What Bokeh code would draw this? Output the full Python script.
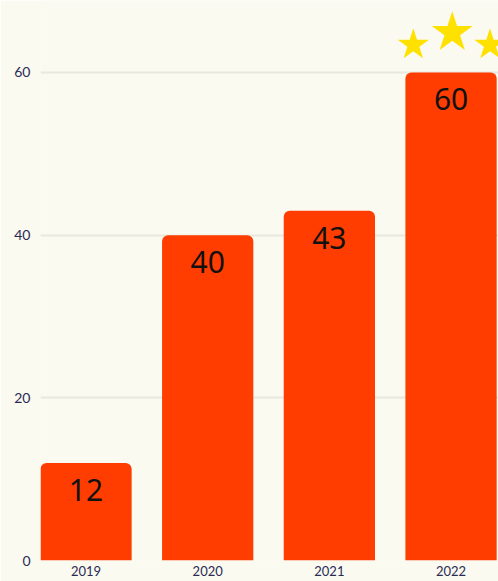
from bokeh.plotting import figure
from bokeh.models import Range1d, FixedTicker
from bokeh.core.properties import value
from bokeh.embed import file_html
from bokeh.resources import INLINE

years = ["2019", "2020", "2021", "2022"]
counts = [12, 40, 43, 60]
y_ticks = [0, 20, 40, 60]

xs = list(range(len(years)))
labels = [str(c) for c in counts]

p = figure(width=498, height=581, output_backend="svg", toolbar_location=None,
           x_range=Range1d(-0.374, 3.39), y_range=Range1d(0, 68.85),
           min_border_left=40, min_border_right=0, min_border_top=0, min_border_bottom=21)
p.background_fill_color = "#fafaf0"
p.border_fill_color = "#fafaf0"
p.outline_line_color = None

p.vbar(x=xs, top=counts, width=0.75, bottom=0, fill_color="#ff3d00", line_color=None,
       border_radius=(6, 6, 0, 0))
p.text(x=xs, y=counts, text=labels, text_align="center", text_baseline="middle",
       y_offset=27, text_font_size="30px", text_color="#111111",
       text_font=value("Noto Sans"))

# stars above the tallest bar
imax = counts.index(max(counts))
top = max(counts)
p.scatter(x=[imax + 0.01], y=[top + 4.9], marker="star", size=43, fill_color="#ffe100", line_color=None)
p.scatter(x=[imax - 0.31, imax + 0.32], y=[top + 3.4, top + 3.4], marker="star", size=33,
          fill_color="#ffe100", line_color=None)

p.xgrid.grid_line_color = None
p.ygrid.grid_line_color = "#e8e8df"
p.ygrid.grid_line_width = 2
p.ygrid.ticker = FixedTicker(ticks=y_ticks)

p.yaxis.ticker = FixedTicker(ticks=y_ticks)
p.xaxis.ticker = FixedTicker(ticks=xs)
p.xaxis.major_label_overrides = {i: y for i, y in enumerate(years)}
for ax in (p.xaxis, p.yaxis):
    ax.axis_line_color = None
    ax.major_tick_line_color = None
    ax.minor_tick_line_color = None
    ax.major_tick_out = 0
    ax.major_tick_in = 0
    ax.major_label_text_font = "Lato"
    ax.major_label_text_color = "#2a2a55"
p.xaxis.major_label_text_font_size = "13px"
p.yaxis.major_label_text_font_size = "14px"
p.xaxis.major_label_standoff = 5
p.yaxis.major_label_standoff = 10

open("out.html", "w").write(file_html(p, INLINE))
